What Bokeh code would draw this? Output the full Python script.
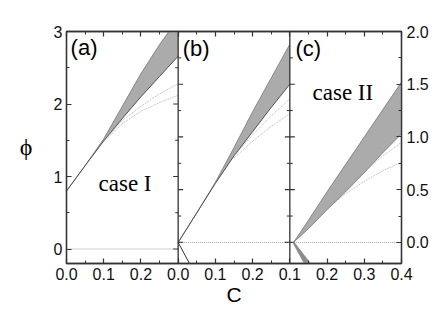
import numpy as np
from bokeh.plotting import figure
from bokeh.models import Range1d, LinearAxis, FixedTicker, Span
from bokeh.core.properties import value
from bokeh.embed import file_html
from bokeh.resources import INLINE

# ---------------- data ----------------
# panel (a): case I
a_C      = [0.0, 0.05, 0.10, 0.15, 0.20, 0.25, 0.30]
a_upper  = [0.80, 1.15, 1.52, 1.97, 2.42, 2.82, 3.18]
a_lower  = [0.80, 1.15, 1.49, 1.80, 2.10, 2.38, 2.66]
a_fC     = [0.10, 0.15, 0.20, 0.25, 0.30]
a_faint1 = [1.49, 1.77, 1.97, 2.14, 2.28]
a_faint2 = [1.48, 1.73, 1.90, 2.02, 2.12]
a_zeroC  = [0.0, 0.30]
a_zero   = [0.0, 0.0]

# panel (b)
b_C      = [0.0, 0.05, 0.10, 0.15, 0.20, 0.25, 0.30]
b_upper  = [0.0, 0.28, 0.57, 0.90, 1.24, 1.56, 1.88]
b_lower  = [0.0, 0.28, 0.56, 0.82, 1.05, 1.28, 1.50]
b_fC     = [0.15, 0.20, 0.25, 0.30]
b_faint1 = [0.82, 1.02, 1.20, 1.36]
b_faint2 = [0.80, 0.96, 1.10, 1.22]
b_downC  = [0.0, 0.035]
b_down   = [0.0, -0.23]
b_zeroC  = [0.0, 0.30]
b_zero   = [0.0, 0.0]

# panel (c): case II
c_C      = [0.11, 0.15, 0.20, 0.25, 0.30, 0.35, 0.40]
c_upper  = [0.0, 0.21, 0.48, 0.74, 1.00, 1.26, 1.52]
c_lower  = [0.0, 0.13, 0.31, 0.48, 0.66, 0.85, 1.03]
c_fC     = [0.20, 0.25, 0.30, 0.35, 0.40]
c_faint1 = [0.33, 0.50, 0.67, 0.82, 0.95]
c_faint2 = [0.32, 0.46, 0.58, 0.68, 0.76]
c_downY  = [0.0, -0.22]
c_downL  = [0.107, 0.141]
c_downR  = [0.113, 0.161]
c_zeroC  = [0.10, 0.40]
c_zero   = [0.0, 0.0]

# axes ticks / labels
x_tick_pos   = [0.0, 0.1, 0.2, 0.3, 0.4, 0.5, 0.6, 0.7, 0.8, 0.9]
x_tick_lab   = ["0.0", "0.1", "0.2", "0.0", "0.1", "0.2", "0.1", "0.2", "0.3", "0.4"]
x_minor_pos  = [0.05, 0.15, 0.25, 0.35, 0.45, 0.55, 0.65, 0.75, 0.85]
ya_ticks     = [0, 1, 2, 3]
ya_minor     = [0.5, 1.5, 2.5]
ybc_ticks    = [0.0, 0.5, 1.0, 1.5, 2.0]
ybc_labels   = ["0.0", "0.5", "1.0", "1.5", "2.0"]
ybc_minor    = [0.25, 0.75, 1.25, 1.75]
phi_pos      = [1.41]
phi_text     = ["\u03d5"]

AX = "#333333"
BAND = "#ababab"
EDGE = "#6a6a6a"
FAINT = "#a0a0a0"

p = figure(width=440, height=309,
           x_range=Range1d(0.0, 0.9), y_range=Range1d(-0.2, 3.0),
           output_backend="svg", toolbar_location=None,
           min_border_left=66, min_border_top=31, min_border_right=39,
           min_border_bottom=46)
p.extra_x_ranges = {"b": Range1d(-0.3, 0.6), "c": Range1d(-0.5, 0.4)}
p.extra_y_ranges = {"bc": Range1d(-0.2, 2.0)}
p.grid.visible = False
p.outline_line_color = AX
p.outline_line_width = 1.3
p.background_fill_color = "white"
p.border_fill_color = "white"

def style_axis(ax, standoff=4):
    ax.axis_line_color = AX
    ax.axis_line_width = 1.3
    ax.major_tick_line_color = AX
    ax.minor_tick_line_color = AX
    ax.major_tick_line_width = 1.2
    ax.minor_tick_line_width = 1.0
    ax.major_tick_in = 5
    ax.major_tick_out = 0
    ax.minor_tick_in = 3
    ax.minor_tick_out = 0
    ax.major_label_text_font = "Liberation Sans"
    ax.major_label_text_font_size = "16px"
    ax.major_label_text_color = "#111111"
    ax.major_label_standoff = standoff

# bottom axis with "C"
xb = p.xaxis[0]
xb.ticker = FixedTicker(ticks=x_tick_pos, minor_ticks=x_minor_pos)
xb.major_label_overrides = dict(zip(x_tick_pos, x_tick_lab))
style_axis(xb, 4)
xb.axis_label = "C"
xb.axis_label_text_font = "Liberation Sans"
xb.axis_label_text_font_style = "normal"
xb.axis_label_text_font_size = "21px"
xb.axis_label_text_color = "black"
xb.axis_label_standoff = 0

# left axis
yl = p.yaxis[0]
yl.ticker = FixedTicker(ticks=ya_ticks, minor_ticks=ya_minor)
style_axis(yl, 4)

# outer left axis carrying the phi label (upright)
yphi = LinearAxis(ticker=FixedTicker(ticks=phi_pos, minor_ticks=[]))
yphi.major_label_overrides = dict(zip(phi_pos, phi_text))
yphi.axis_line_color = None
yphi.major_tick_line_color = None
yphi.minor_tick_line_color = None
yphi.major_tick_in = 0
yphi.major_tick_out = 0
yphi.major_label_text_font = "Liberation Serif"
yphi.major_label_text_font_size = "24px"
yphi.major_label_text_color = "black"
yphi.major_label_standoff = 18
p.add_layout(yphi, "left")

# top axis (ticks only)
xt = LinearAxis(ticker=FixedTicker(ticks=x_tick_pos, minor_ticks=x_minor_pos))
style_axis(xt, 0)
xt.major_label_overrides = {t: "" for t in x_tick_pos}
xt.major_label_text_font_size = "8px"
p.add_layout(xt, "above")

# right axis (panels b, c scale)
yr = LinearAxis(y_range_name="bc", ticker=FixedTicker(ticks=ybc_ticks, minor_ticks=ybc_minor))
yr.major_label_overrides = dict(zip(ybc_ticks, ybc_labels))
style_axis(yr, 5)
p.add_layout(yr, "right")

# panel dividers
for loc in (0.3, 0.6):
    p.add_layout(Span(location=loc, dimension="height", line_color=AX, line_width=1.3))

# inner boundary ticks
p.ray(x=[0.3] * 3, y=ya_ticks[:3], length=5, length_units="screen",
      angle=np.pi, line_color=AX, line_width=1.2)
p.ray(x=[0.3] * len(ya_minor), y=ya_minor, length=3, length_units="screen",
      angle=np.pi, line_color=AX, line_width=1.0)
for xr, xv, ang in (("b", 0.0, 0.0), ("b", 0.3, np.pi), ("c", 0.1, 0.0)):
    p.ray(x=[xv] * 4, y=ybc_ticks[:4], length=5, length_units="screen", angle=ang,
          line_color=AX, line_width=1.2, x_range_name=xr, y_range_name="bc")
    p.ray(x=[xv] * 4, y=ybc_minor, length=3, length_units="screen", angle=ang,
          line_color=AX, line_width=1.0, x_range_name=xr, y_range_name="bc")

# ---- panel (a)
p.line(a_zeroC, a_zero, line_color="#888888", line_dash="1 1", line_width=0.8)
p.varea(x=a_C, y1=a_lower, y2=a_upper, fill_color=BAND)
p.line(a_C, a_upper, line_color=EDGE, line_width=0.7)
p.line(a_C, a_lower, line_color="#444444", line_width=0.9)
p.line(a_fC, a_faint1, line_color=FAINT, line_dash="1 1", line_width=0.8)
p.line(a_fC, a_faint2, line_color=FAINT, line_dash="1 1", line_width=0.8)

# ---- panel (b)
kb = dict(x_range_name="b", y_range_name="bc")
p.line(b_zeroC, b_zero, line_color="#888888", line_dash="1 1", line_width=0.8, **kb)
p.varea(x=b_C, y1=b_lower, y2=b_upper, fill_color=BAND, **kb)
p.line(b_C, b_upper, line_color=EDGE, line_width=0.7, **kb)
p.line(b_C, b_lower, line_color="#444444", line_width=0.9, **kb)
p.line(b_fC, b_faint1, line_color=FAINT, line_dash="1 1", line_width=0.8, **kb)
p.line(b_fC, b_faint2, line_color=FAINT, line_dash="1 1", line_width=0.8, **kb)
p.line(b_downC, b_down, line_color="#333333", line_width=1.0, **kb)

# ---- panel (c)
kc = dict(x_range_name="c", y_range_name="bc")
p.line(c_zeroC, c_zero, line_color="#888888", line_dash="1 1", line_width=0.8, **kc)
p.varea(x=c_C, y1=c_lower, y2=c_upper, fill_color=BAND, **kc)
p.line(c_C, c_upper, line_color=EDGE, line_width=0.7, **kc)
p.line(c_C, c_lower, line_color=EDGE, line_width=0.7, **kc)
p.line(c_fC, c_faint1, line_color=FAINT, line_dash="1 1", line_width=0.8, **kc)
p.line(c_fC, c_faint2, line_color=FAINT, line_dash="1 1", line_width=0.8, **kc)
p.harea(y=c_downY, x1=c_downL, x2=c_downR, fill_color="#8c8c8c", **kc)

# ---- texts
p.text(x=[0.011], y=[2.78], text=["(a)"], text_font=value("Liberation Sans"),
       text_font_size="22px", text_baseline="middle", text_align="left", text_color="black")
p.text(x=[0.012], y=[1.84], text=["(b)"], text_font=value("Liberation Sans"),
       text_font_size="22px", text_baseline="middle", text_align="left", text_color="black", **kb)
p.text(x=[0.115], y=[1.84], text=["(c)"], text_font=value("Liberation Sans"),
       text_font_size="22px", text_baseline="middle", text_align="left", text_color="black", **kc)
p.text(x=[0.086], y=[0.90], text=["case I"], text_font=value("Liberation Serif"),
       text_font_size="23px", text_baseline="middle", text_align="left", text_color="black")
p.text(x=[0.161], y=[1.42], text=["case II"], text_font=value("Liberation Serif"),
       text_font_size="23px", text_baseline="middle", text_align="left", text_color="black", **kc)

open("out.html", "w").write(file_html(p, INLINE))
